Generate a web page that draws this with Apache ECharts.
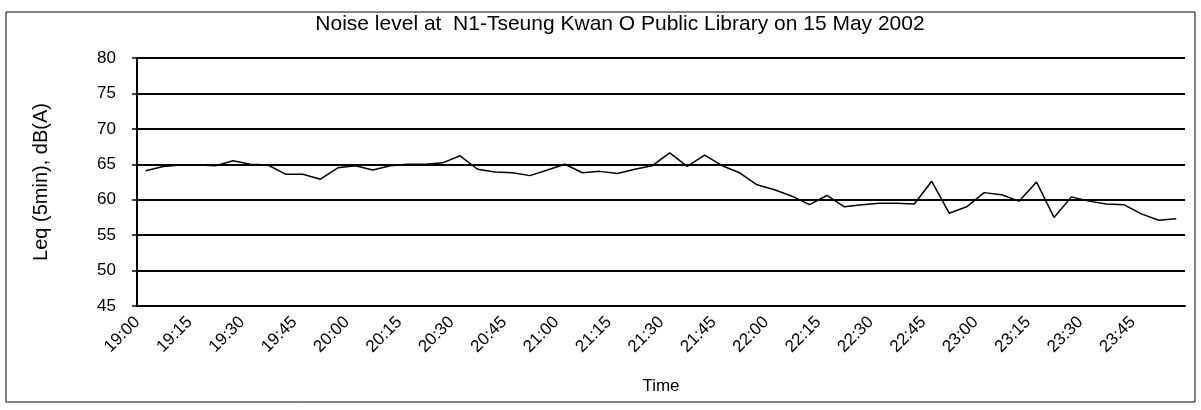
<!DOCTYPE html>
<html lang="en" style="height: 100%">

<head>
  <meta charset="utf-8">
</head>

<body style="height: 100%; margin: 0; background: #fff">
  <div id="container" style="width: 1201px; height: 410px"></div>

  <script type="text/javascript" src="https://cdn.jsdelivr.net/npm/echarts@6/dist/echarts.min.js"></script>

  <script type="text/javascript">
    // 5-minute Leq readings, 19:00 to 23:55
    var times = [];
    for (var h = 19; h <= 23; h++) {
      for (var m = 0; m < 60; m += 5) {
        times.push(h + ':' + (m < 10 ? '0' + m : m));
      }
    }
    var leq = [
      64.1, 64.7, 64.9, 64.9, 64.8, 65.5, 65.0, 64.9, 63.6, 63.6,
      62.9, 64.5, 64.8, 64.2, 64.8, 65.0, 65.0, 65.2, 66.2, 64.3,
      63.9, 63.8, 63.4, 64.2, 65.0, 63.8, 64.0, 63.7, 64.3, 64.8,
      66.6, 64.7, 66.3, 64.8, 63.8, 62.1, 61.4, 60.5, 59.3, 60.6,
      59.0, 59.3, 59.5, 59.5, 59.4, 62.6, 58.1, 59.0, 61.0, 60.7,
      59.8, 62.5, 57.5, 60.4, 59.8, 59.4, 59.3, 58.0, 57.1, 57.3
    ];
    var yTicks = { min: 45, max: 80, step: 5 };

    var font = '"Liberation Sans", Arial, sans-serif';
    var dom = document.getElementById('container');
    var myChart = echarts.init(dom, null, { renderer: 'canvas' });

    var option = {
      animation: false,
      backgroundColor: '#fff',
      title: {
        text: 'Noise level at  N1-Tseung Kwan O Public Library on 15 May 2002',
        left: 615,
        textAlign: 'center',
        top: 9,
        textStyle: { fontFamily: font, fontSize: 21, fontWeight: 'normal', color: '#000' }
      },
      graphic: [{
        type: 'rect',
        shape: { x: 6, y: 12, width: 1189, height: 390 },
        style: { fill: 'none', stroke: '#000', lineWidth: 1 },
        silent: true
      }],
      grid: { left: 137, right: 16, top: 58, bottom: 104 },
      xAxis: {
        type: 'category',
        data: times,
        boundaryGap: true,
        name: 'Time',
        nameLocation: 'middle',
        nameGap: 72,
        nameTextStyle: { fontFamily: font, fontSize: 17, color: '#000' },
        axisLine: { lineStyle: { color: '#000', width: 2 } },
        axisTick: { interval: 0, length: 5, lineStyle: { color: '#000', width: 1.5 } },
        axisLabel: {
          interval: 2,
          rotate: 45,
          margin: 5,
          padding: [0, 12, 0, 0],
          fontFamily: font,
          fontSize: 17,
          color: '#000'
        },
        splitLine: { show: false }
      },
      yAxis: {
        type: 'value',
        min: yTicks.min,
        max: yTicks.max,
        interval: yTicks.step,
        name: 'Leq (5min), dB(A)',
        nameLocation: 'middle',
        nameGap: 86,
        nameTextStyle: { fontFamily: font, fontSize: 20, color: '#000' },
        axisLine: { show: true, lineStyle: { color: '#000', width: 2 } },
        axisTick: { show: true, length: 5, lineStyle: { color: '#000', width: 1.5 } },
        axisLabel: { margin: 21, fontFamily: font, fontSize: 17, color: '#000' },
        splitLine: { lineStyle: { color: '#000', width: 2 } }
      },
      series: [{
        type: 'line',
        data: leq,
        showSymbol: false,
        lineStyle: { color: '#000', width: 1.5 }
      }]
    };

    myChart.setOption(option);
    window.addEventListener('resize', myChart.resize);
  </script>
</body>

</html>
